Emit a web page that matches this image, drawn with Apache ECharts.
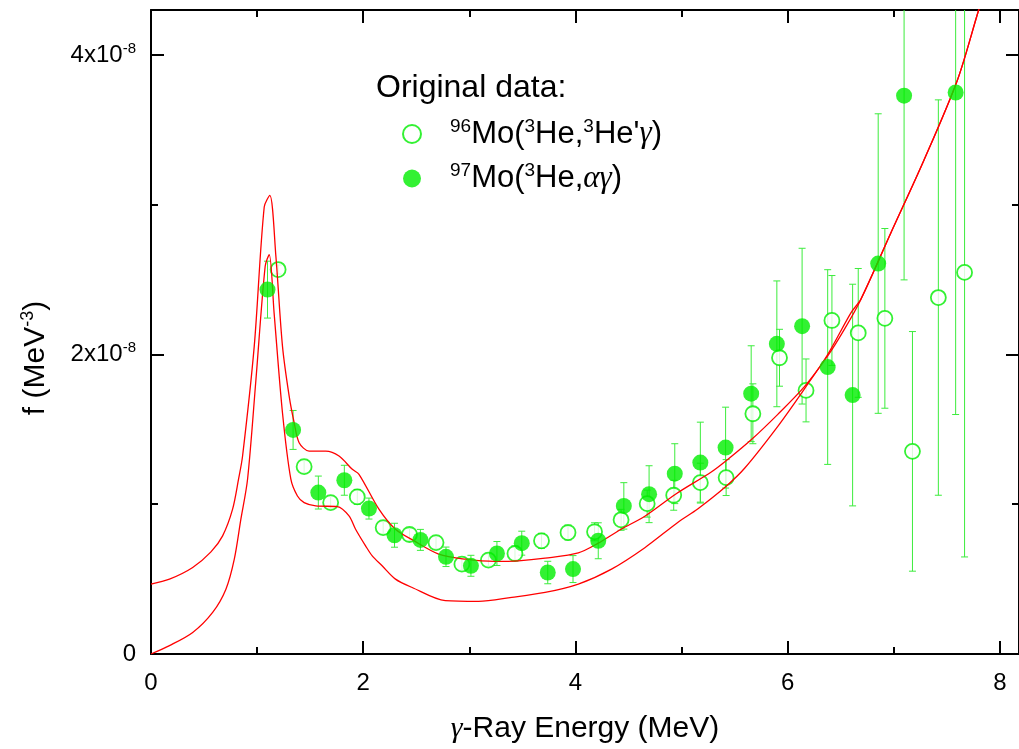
<!DOCTYPE html>
<html>
<head>
<meta charset="utf-8">
<script src="https://cdn.jsdelivr.net/npm/echarts@6/dist/echarts.min.js"></script>
<style>
  html, body { margin: 0; padding: 0; background: #fff; }
  #chart { width: 1019px; height: 749px; }
</style>
</head>
<body>
<div id="chart"></div>
<script>
// Strength function f in units of 1e-8 MeV^-3 versus gamma-ray energy (MeV)

// 97Mo(3He,alpha gamma) — filled circles
const energyAlpha = [1.098, 1.339, 1.577, 1.822, 2.054, 2.295, 2.539, 2.780, 3.015, 3.260, 3.494, 3.739, 3.977, 4.215, 4.456, 4.694, 4.936, 5.177, 5.415, 5.656, 5.898, 6.136, 6.377, 6.612, 6.853, 7.097, 7.583];
const fAlpha      = [2.433, 1.496, 1.078, 1.160, 0.971, 0.793, 0.762, 0.649, 0.589, 0.671, 0.740, 0.544, 0.567, 0.756, 0.989, 1.067, 1.204, 1.278, 1.378, 1.738, 2.071, 2.189, 1.916, 1.729, 2.607, 3.728, 3.749];
const errAlpha    = [0.19, 0.13, 0.11, 0.10, 0.07, 0.08, 0.07, 0.065, 0.07, 0.08, 0.08, 0.075, 0.09, 0.12, 0.155, 0.19, 0.20, 0.27, 0.27, 0.32, 0.42, 0.52, 0.65, 0.74, 1.00, 1.23, 2.15];

// 96Mo(3He,3He' gamma) — open circles
const energyInel = [1.198, 1.443, 1.693, 1.944, 2.188, 2.436, 2.686, 2.930, 3.180, 3.430, 3.680, 3.930, 4.180, 4.430, 4.676, 4.926, 5.177, 5.420, 5.672, 5.923, 6.173, 6.417, 6.665, 6.916, 7.176, 7.420, 7.667];
const fInel      = [2.567, 1.251, 1.011, 1.049, 0.844, 0.798, 0.744, 0.600, 0.627, 0.671, 0.756, 0.811, 0.816, 0.896, 1.004, 1.060, 1.144, 1.178, 1.604, 1.978, 1.760, 2.227, 2.144, 2.241, 1.353, 2.380, 2.548];
const errInel    = [0.03, 0.04, 0.04, 0.05, 0.04, 0.04, 0.04, 0.04, 0.04, 0.05, 0.05, 0.05, 0.06, 0.07, 0.09, 0.10, 0.13, 0.12, 0.20, 0.19, 0.21, 0.30, 0.43, 0.60, 0.80, 1.32, 1.90];

// Model curves
const fitUpperE = [0, 0.174, 0.393, 0.565, 0.675, 0.769, 0.825, 0.863, 0.973, 1.067, 1.120, 1.177, 1.239, 1.302, 1.349, 1.396, 1.490, 1.647, 1.772, 1.897, 1.960, 2.148, 2.304, 2.480, 2.711, 2.962, 3.244, 3.463, 3.714, 4.027, 4.215, 4.430, 4.654, 4.950, 5.280, 5.420, 5.656, 5.907, 6.158, 6.377, 6.534, 6.690, 6.972, 7.286, 7.600, 7.800, 8.000];
const fitUpperF = [0.467, 0.500, 0.578, 0.682, 0.789, 0.967, 1.167, 1.322, 2.056, 2.985, 3.062, 2.655, 2.056, 1.722, 1.545, 1.411, 1.355, 1.355, 1.322, 1.233, 1.200, 0.967, 0.833, 0.755, 0.667, 0.633, 0.618, 0.622, 0.640, 0.675, 0.740, 0.833, 0.920, 1.070, 1.215, 1.290, 1.430, 1.600, 1.785, 1.990, 2.167, 2.367, 2.811, 3.300, 3.833, 4.300, 4.750];
const fitLowerE = [0, 0.174, 0.393, 0.581, 0.706, 0.785, 0.847, 0.910, 0.989, 1.076, 1.114, 1.160, 1.239, 1.318, 1.380, 1.443, 1.553, 1.756, 1.866, 1.928, 2.022, 2.085, 2.178, 2.304, 2.461, 2.774, 3.087, 3.400, 3.714, 4.027, 4.340, 4.654, 4.967, 5.155, 5.420, 5.594, 5.907, 6.158, 6.377, 6.596, 6.690, 6.972, 7.286, 7.600, 7.800, 8.000];
const fitLowerF = [0, 0.056, 0.144, 0.278, 0.433, 0.633, 0.900, 1.167, 1.833, 2.589, 2.667, 2.278, 1.611, 1.167, 1.055, 1.011, 0.989, 0.984, 0.922, 0.833, 0.722, 0.655, 0.589, 0.500, 0.444, 0.356, 0.351, 0.378, 0.411, 0.467, 0.567, 0.710, 0.880, 0.970, 1.120, 1.240, 1.520, 1.770, 2.000, 2.278, 2.370, 2.811, 3.300, 3.833, 4.300, 4.750];

// Axis ranges and labelled ticks
const X_MAX = 8.18, Y_MAX = 4.3;
const xTickLabels = [0, 2, 4, 6, 8];
const yTickLabels = [0, 2, 4];

const NAME_INEL = "96Mo(3He,3He'γ)";
const NAME_ALPHA = '97Mo(3He,αγ)';

const FONT = "'Liberation Sans', Arial, sans-serif";
const SERIF = "'Liberation Serif', 'DejaVu Serif', serif";
const GREEN = '#00ee00';
const BAR_GREEN = '#3cec3c';
const RED = '#ff0000';

const pairs = (xs, ys) => xs.map((x, i) => [x, ys[i]]);
const bars = (xs, ys, es) => xs.map((x, i) => [x, ys[i] - es[i], ys[i] + es[i]]);

function errorBarRender(params, api) {
  const x = api.value(0);
  const top = api.coord([x, api.value(2)]);
  const bot = api.coord([x, api.value(1)]);
  const w = 3.5;
  const style = { stroke: BAR_GREEN, lineWidth: 1 };
  return {
    type: 'group',
    children: [
      { type: 'line', shape: { x1: top[0], y1: top[1], x2: bot[0], y2: bot[1] }, style },
      { type: 'line', shape: { x1: top[0] - w, y1: top[1], x2: top[0] + w, y2: top[1] }, style },
      { type: 'line', shape: { x1: bot[0] - w, y1: bot[1], x2: bot[0] + w, y2: bot[1] }, style }
    ]
  };
}

const axisLineStyle = { color: '#000', width: 2 };

function xAxisDef(position, interval, tickLen, withLine, withLabels) {
  return {
    type: 'value', position, min: 0, max: X_MAX, interval,
    axisLine: { show: withLine, onZero: false, lineStyle: axisLineStyle },
    axisTick: { show: true, inside: true, length: tickLen, lineStyle: { color: '#000', width: 2 } },
    splitLine: { show: false },
    axisLabel: withLabels ? {
      show: true, margin: 17, color: '#000', fontFamily: FONT, fontSize: 24,
      showMaxLabel: false,
      formatter: v => (xTickLabels.indexOf(v) >= 0 ? String(v) : '')
    } : { show: false }
  };
}

function yAxisDef(position, interval, tickLen, withLine, withLabels) {
  return {
    type: 'value', position, min: 0, max: Y_MAX, interval,
    axisLine: { show: withLine, onZero: false, lineStyle: axisLineStyle },
    axisTick: { show: true, inside: true, length: tickLen, lineStyle: { color: '#000', width: 2 } },
    splitLine: { show: false },
    axisLabel: withLabels ? {
      show: true, margin: 15, color: '#000', fontFamily: FONT, fontSize: 24,
      showMaxLabel: false,
      formatter: v => {
        if (yTickLabels.indexOf(v) < 0) return '';
        return v === 0 ? '{m|0}' : '{m|' + v + 'x10}{s|-8}';
      },
      rich: {
        m: { fontFamily: FONT, fontSize: 24, color: '#000', lineHeight: 28 },
        s: { fontFamily: FONT, fontSize: 15, color: '#000', verticalAlign: 'top', lineHeight: 28 }
      }
    } : { show: false }
  };
}

const chart = echarts.init(document.getElementById('chart'), null, { renderer: 'canvas' });

const option = {
  backgroundColor: '#fff',
  animation: false,
  grid: { left: 151, top: 10, right: -2, bottom: 94, containLabel: false },
  title: {
    text: 'Original data:', left: 376, top: 72, padding: 0,
    textStyle: { fontFamily: FONT, fontSize: 32, fontWeight: 'normal', color: '#000' }
  },
  legend: {
    orient: 'vertical', left: 402, top: 117, padding: 0, itemGap: 12,
    itemWidth: 18, itemHeight: 18,
    data: [{ name: NAME_INEL, icon: 'circle' }, { name: NAME_ALPHA, icon: 'circle' }],
    formatter: name => name === NAME_INEL
      ? "{gap|}{sup|96}{t|Mo(}{sup|3}{t|He,}{sup|3}{t|He'}{g|γ}{t|)}"
      : '{gap|}{sup|97}{t|Mo(}{sup|3}{t|He,}{g|αγ}{t|)}',
    textStyle: {
      rich: {
        gap: { width: 24, lineHeight: 34 },
        t: { fontFamily: FONT, fontSize: 31, color: '#000', lineHeight: 34 },
        sup: { fontFamily: FONT, fontSize: 19, color: '#000', verticalAlign: 'top', lineHeight: 34 },
        g: { fontFamily: SERIF, fontStyle: 'italic', fontSize: 31, color: '#000', lineHeight: 34 }
      }
    }
  },
  xAxis: [
    Object.assign(xAxisDef('bottom', 2, 13, true, true), {
      name: '{g|γ}-Ray Energy (MeV)', nameLocation: 'middle', nameGap: 60,
      nameTextStyle: {
        fontFamily: FONT, fontSize: 30, color: '#000',
        rich: { g: { fontFamily: SERIF, fontStyle: 'italic', fontSize: 30, color: '#000' } }
      }
    }),
    xAxisDef('bottom', 1, 7, false, false),
    xAxisDef('top', 2, 13, true, false),
    xAxisDef('top', 1, 7, false, false)
  ],
  yAxis: [
    yAxisDef('left', 2, 13, true, true),
    yAxisDef('left', 1, 7, false, false),
    yAxisDef('right', 2, 13, true, false),
    yAxisDef('right', 1, 7, false, false)
  ],
  graphic: [{
    type: 'text', x: 36, y: 358, rotation: Math.PI / 2,
    style: {
      text: '{t|f (MeV}{s|-3}{t|)}', align: 'center', verticalAlign: 'middle',
      rich: {
        t: { fontFamily: FONT, fontSize: 30, fill: '#000', lineHeight: 34 },
        s: { fontFamily: FONT, fontSize: 18, fill: '#000', verticalAlign: 'top', lineHeight: 34 }
      }
    }
  }],
  series: [
    {
      name: 'err-inel', type: 'custom', xAxisIndex: 0, yAxisIndex: 0, clip: true, z: 2,
      renderItem: errorBarRender, data: bars(energyInel, fInel, errInel), silent: true
    },
    {
      name: 'err-alpha', type: 'custom', xAxisIndex: 0, yAxisIndex: 0, clip: true, z: 2,
      renderItem: errorBarRender, data: bars(energyAlpha, fAlpha, errAlpha), silent: true
    },
    {
      name: NAME_INEL, type: 'scatter', xAxisIndex: 0, yAxisIndex: 0, z: 3,
      symbol: 'circle', symbolSize: 15,
      itemStyle: { color: '#fff', borderColor: GREEN, borderWidth: 1.8 },
      data: pairs(energyInel, fInel)
    },
    {
      name: 'upper', type: 'line', xAxisIndex: 0, yAxisIndex: 0, z: 4,
      showSymbol: false, smooth: 0.3,
      lineStyle: { color: RED, width: 1.3 }, data: pairs(fitUpperE, fitUpperF)
    },
    {
      name: 'lower', type: 'line', xAxisIndex: 0, yAxisIndex: 0, z: 4,
      showSymbol: false, smooth: 0.3,
      lineStyle: { color: RED, width: 1.3 }, data: pairs(fitLowerE, fitLowerF)
    },
    {
      name: NAME_ALPHA, type: 'scatter', xAxisIndex: 0, yAxisIndex: 0, z: 5,
      symbol: 'circle', symbolSize: 16,
      itemStyle: { color: GREEN },
      data: pairs(energyAlpha, fAlpha)
    }
  ]
};

chart.setOption(option);
</script>
</body>
</html>
